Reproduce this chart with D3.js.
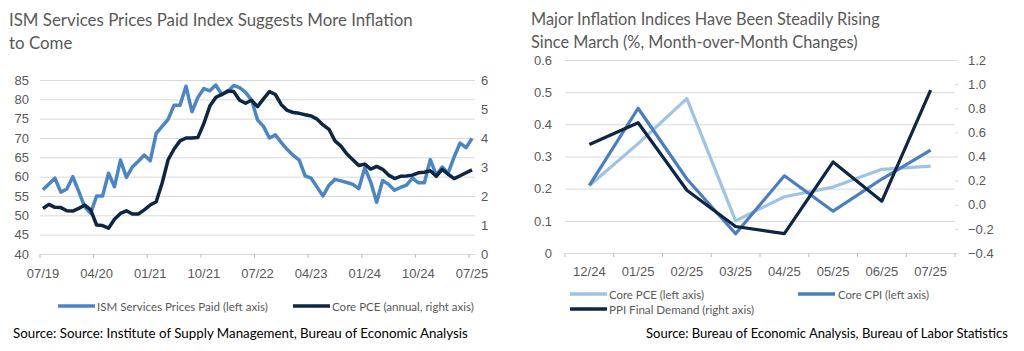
<html>
<head>
  <meta charset="utf-8" />
  <script src="https://cdnjs.cloudflare.com/ajax/libs/d3/7.8.5/d3.min.js"></script>
  <style>
    body { margin: 0; background: #fff; }
    svg { font-family: Lato, "Liberation Sans", sans-serif; }
  </style>
</head>
<body>
  <svg width="1024" height="351"></svg>
  <script>

    // ---- left chart data (monthly, 07/19 - 07/25)
    var months = d3.timeMonth.range(new Date(2019, 6, 1), new Date(2025, 7, 1))
                   .map(d3.timeFormat("%m/%y"));
    var ismPrices = [56.6, 58.1, 59.6, 56.0, 56.8, 60.0, 56.2, 52.2, 50.5, 55.0, 55.0, 60.9,
                     57.4, 64.3, 59.8, 62.5, 64.0, 65.6, 64.1, 71.2, 73.0, 74.8, 78.5, 78.5,
                     83.4, 76.8, 80.5, 82.8, 82.2, 83.7, 81.2, 82.0, 83.6, 83.0, 81.8, 79.8,
                     74.7, 73.0, 70.0, 70.8, 68.8, 67.0, 65.5, 64.3, 60.2, 59.6, 57.3, 55.0,
                     57.8, 59.3, 58.9, 58.5, 58.0, 56.9, 62.3, 58.6, 53.4, 59.0, 58.0, 56.5,
                     57.2, 57.8, 59.6, 58.4, 58.4, 64.4, 60.4, 62.5, 60.9, 65.1, 68.7, 67.5, 69.9];
    var corePce = [1.57, 1.71, 1.61, 1.60, 1.49, 1.48, 1.57, 1.69, 1.52, 1.00, 0.98, 0.89,
                   1.20, 1.40, 1.49, 1.38, 1.38, 1.52, 1.69, 1.80, 2.45, 3.25, 3.62, 3.90,
                   4.00, 4.00, 4.02, 4.50, 5.10, 5.40, 5.50, 5.62, 5.60, 5.30, 5.20, 5.30,
                   5.08, 5.35, 5.60, 5.50, 5.15, 4.95, 4.88, 4.85, 4.80, 4.76, 4.65, 4.45,
                   4.30, 3.90, 3.72, 3.45, 3.25, 3.05, 3.10, 2.93, 3.02, 2.92, 2.72, 2.60,
                   2.68, 2.69, 2.72, 2.80, 2.82, 2.87, 2.68, 2.92, 2.75, 2.60, 2.70, 2.80, 2.90];
    var monthTicks = ["07/19", "04/20", "01/21", "10/21", "07/22", "04/23", "01/24", "10/24", "07/25"];
    var ismTicks = [40, 45, 50, 55, 60, 65, 70, 75, 80, 85];
    var pceTicks = [0, 1, 2, 3, 4, 5, 6];

    // ---- right chart data (month-over-month)
    var mmCats = ["12/24", "01/25", "02/25", "03/25", "04/25", "05/25", "06/25", "07/25"];
    var corePceMoM = [0.21, 0.34, 0.48, 0.10, 0.175, 0.205, 0.26, 0.27];
    var coreCpiMoM = [0.21, 0.45, 0.23, 0.06, 0.24, 0.13, 0.23, 0.32];
    var ppiMoM = [0.50, 0.68, 0.12, -0.18, -0.24, 0.355, 0.03, 0.95];
    var mmLeftTicks = [0, 0.1, 0.2, 0.3, 0.4, 0.5, 0.6];
    var mmRightTicks = [-0.4, -0.2, 0, 0.2, 0.4, 0.6, 0.8, 1.0, 1.2];

    var grey = "#595959", grid = "#D9D9D9";
    var ismBlue = "#4A86C6", navy = "#0D2645", lightBlue = "#9DC3E6", midBlue = "#4A7EBE";

    var svg = d3.select("svg");

    function styleAxis(g) {
      g.select(".domain").remove();
      g.selectAll("text").attr("fill", grey).style("font-size", "13px");
      g.selectAll("line").attr("stroke", grid);
    }

    // text sized so its natural width fits the width seen in the reference
    function addText(x, y, str, opts) {
      var t = svg.append("text").attr("x", x).attr("y", y).text(str)
        .attr("fill", opts.color || grey).style("font-size", opts.size + "px");
      var size = opts.size;
      if (opts.width) {
        size = opts.size * opts.width / t.node().getComputedTextLength();
        t.style("font-size", size.toFixed(2) + "px");
      }
      return size;
    }

    // ================= LEFT CHART =================
    var xL = d3.scaleBand().domain(months).range([40, 475]);
    var yL = d3.scaleLinear().domain([40, 85]).range([254, 80]);
    var yL2 = d3.scaleLinear().domain([0, 6]).range([254, 80]);

    svg.append("g").attr("transform", "translate(40,0)")
      .call(d3.axisLeft(yL).tickValues(ismTicks).tickSize(-435).tickFormat(""))
      .call(styleAxis);
    svg.append("g").attr("transform", "translate(40,0)")
      .call(d3.axisLeft(yL).tickValues(ismTicks).tickSize(0).tickPadding(11))
      .call(styleAxis);
    svg.append("g").attr("transform", "translate(475,0)")
      .call(d3.axisRight(yL2).tickValues(pceTicks).tickSize(0).tickPadding(6)
        .tickFormat(d3.format("d")))
      .call(styleAxis);
    svg.append("g").attr("transform", "translate(0,254)")
      .call(d3.axisBottom(xL).tickValues(monthTicks).tickSize(0).tickPadding(15))
      .call(styleAxis);
    // small tick marks at category boundaries
    svg.append("g").selectAll("line").data(monthTicks).enter().append("line")
      .attr("x1", d => xL(d)).attr("x2", d => xL(d))
      .attr("y1", 254).attr("y2", 258).attr("stroke", "#BFBFBF");

    var lineIsm = d3.line().x((d, i) => xL(months[i]) + xL.bandwidth() / 2).y(d => yL(d));
    var linePce = d3.line().x((d, i) => xL(months[i]) + xL.bandwidth() / 2).y(d => yL2(d));

    svg.append("path").datum(ismPrices).attr("d", lineIsm)
      .attr("fill", "none").attr("stroke", ismBlue).attr("stroke-width", 3.5)
      .attr("stroke-linejoin", "round");
    svg.append("path").datum(corePce).attr("d", linePce)
      .attr("fill", "none").attr("stroke", navy).attr("stroke-width", 3.5)
      .attr("stroke-linejoin", "round");

    var t1 = addText(9, 26, "ISM Services Prices Paid Index Suggests More Inflation", {size: 16, width: 404});
    addText(9, 49, "to Come", {size: t1});

    svg.append("line").attr("x1", 58).attr("x2", 95).attr("y1", 306).attr("y2", 306)
      .attr("stroke", ismBlue).attr("stroke-width", 3.5);
    addText(97, 310.5, "ISM Services Prices Paid (left axis)", {size: 12.5, width: 171});
    svg.append("line").attr("x1", 293).attr("x2", 330).attr("y1", 306).attr("y2", 306)
      .attr("stroke", navy).attr("stroke-width", 3.5);
    addText(332, 310.5, "Core PCE (annual, right axis)", {size: 12.5, width: 142});

    addText(13, 338, "Source:  Source: Institute of Supply Management, Bureau of Economic Analysis",
      {size: 14, width: 455, color: "#000"});

    // ================= RIGHT CHART =================
    var xM = d3.scaleBand().domain(mmCats).range([565, 955]);
    var yM = d3.scaleLinear().domain([0, 0.6]).range([253, 60]);
    var yM2 = d3.scaleLinear().domain([-0.4, 1.2]).range([253, 60]);

    svg.append("g").attr("transform", "translate(565,0)")
      .call(d3.axisLeft(yM).tickValues(mmLeftTicks).tickSize(-390).tickFormat(""))
      .call(styleAxis);
    svg.append("g").attr("transform", "translate(565,0)")
      .call(d3.axisLeft(yM).tickValues(mmLeftTicks).tickSize(0).tickPadding(13)
        .tickFormat(d => d === 0 ? "0" : d3.format(".1f")(d)))
      .call(styleAxis);
    svg.append("g").attr("transform", "translate(955,0)")
      .call(d3.axisRight(yM2).tickValues(mmRightTicks).tickSize(3).tickPadding(10)
        .tickFormat(d3.format(".1f")))
      .call(styleAxis);
    svg.append("g").attr("transform", "translate(0,253)")
      .call(d3.axisBottom(xM).tickSize(0).tickPadding(14))
      .call(styleAxis);
    svg.append("g").selectAll("line").data(mmCats.concat(["end"])).enter().append("line")
      .attr("x1", d => d === "end" ? xM.range()[1] : xM(d))
      .attr("x2", d => d === "end" ? xM.range()[1] : xM(d))
      .attr("y1", 253).attr("y2", 257).attr("stroke", "#BFBFBF");

    var cx = (d, i) => xM(mmCats[i]) + xM.bandwidth() / 2;
    var series = [
      {vals: corePceMoM, scale: yM, color: lightBlue},
      {vals: coreCpiMoM, scale: yM, color: midBlue},
      {vals: ppiMoM, scale: yM2, color: navy}
    ];
    series.forEach(function(s) {
      svg.append("path").datum(s.vals)
        .attr("d", d3.line().x(cx).y(d => s.scale(d)))
        .attr("fill", "none").attr("stroke", s.color).attr("stroke-width", 3.2)
        .attr("stroke-linejoin", "round");
    });

    var t2 = addText(531, 25, "Major Inflation Indices Have Been Steadily Rising", {size: 16, width: 349});
    addText(531, 48, "Since March (%, Month-over-Month Changes)", {size: t2});

    svg.append("line").attr("x1", 570).attr("x2", 607).attr("y1", 294).attr("y2", 294)
      .attr("stroke", lightBlue).attr("stroke-width", 3.5);
    addText(609, 298.5, "Core PCE (left axis)", {size: 12.5, width: 95});
    svg.append("line").attr("x1", 798).attr("x2", 835).attr("y1", 294).attr("y2", 294)
      .attr("stroke", midBlue).attr("stroke-width", 3.5);
    addText(838, 298.5, "Core CPI (left axis)", {size: 12.5, width: 91});
    svg.append("line").attr("x1", 570).attr("x2", 607).attr("y1", 309).attr("y2", 309)
      .attr("stroke", navy).attr("stroke-width", 3.5);
    addText(609, 313.5, "PPI Final Demand (right axis)", {size: 12.5, width: 145});

    addText(646, 338, "Source: Bureau of Economic Analysis, Bureau of Labor Statistics",
      {size: 14, width: 362, color: "#000"});

  </script>
</body>
</html>
